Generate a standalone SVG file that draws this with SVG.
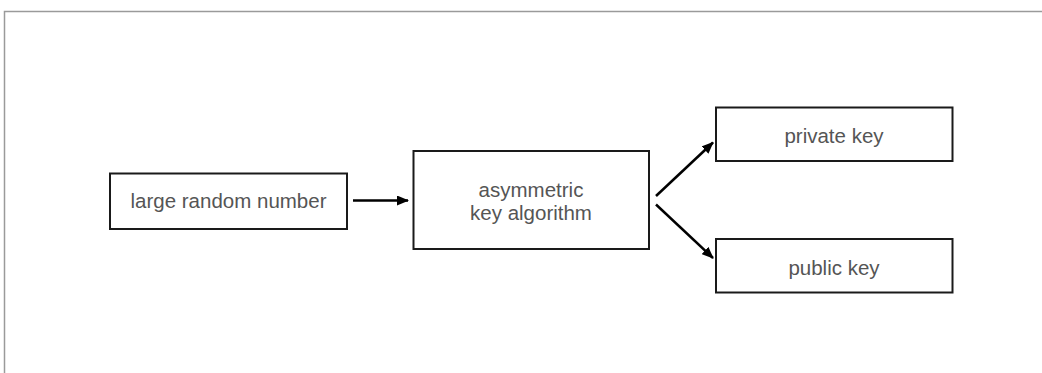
<svg xmlns="http://www.w3.org/2000/svg" width="1042" height="373" viewBox="0 0 1042 373">
<style>
.frame{fill:none;stroke:#9a9a9a;stroke-width:1.5}
.box{fill:#fff;stroke:#1a1a1a;stroke-width:2}
.lbl{font-family:"Liberation Sans",Arial,sans-serif;font-size:20.5px;fill:#555;text-anchor:middle}
.conn{fill:none;stroke:#000;stroke-width:2.5}
</style>
<defs>
<marker id="ah" markerWidth="12" markerHeight="10" refX="11" refY="5" orient="auto" markerUnits="userSpaceOnUse" viewBox="0 0 12 10">
<path d="M0,0 L12,5 L0,10 Z" fill="#000"/>
</marker>
</defs>
<rect width="1042" height="373" fill="#fff"/>
<path class="frame" d="M1042,11.5 H4.5 V373"/>
<g id="node-random">
<rect class="box" x="110" y="173.5" width="237" height="55.5"/>
<text class="lbl" x="228.5" y="208">large random number</text>
</g>
<g id="node-algorithm">
<rect class="box" x="413.5" y="151" width="235.5" height="98"/>
<text class="lbl" x="531" y="197">asymmetric</text>
<text class="lbl" x="531" y="220">key algorithm</text>
</g>
<g id="node-private">
<rect class="box" x="716" y="107.5" width="236.5" height="53.5"/>
<text class="lbl" x="834" y="143">private key</text>
</g>
<g id="node-public">
<rect class="box" x="716" y="239" width="236.5" height="53.5"/>
<text class="lbl" x="834" y="275">public key</text>
</g>
<g id="connectors">
<line class="conn" x1="353" y1="200.5" x2="408" y2="200.5" marker-end="url(#ah)"/>
<line class="conn" x1="656" y1="196" x2="713" y2="142.5" marker-end="url(#ah)"/>
<line class="conn" x1="656" y1="204.5" x2="713" y2="258" marker-end="url(#ah)"/>
</g>
</svg>
